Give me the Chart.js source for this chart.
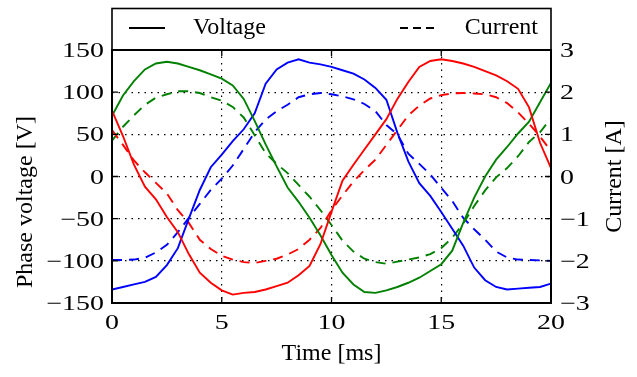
<!DOCTYPE html>
<html>
<head>
<meta charset="utf-8">
<script src="https://cdn.jsdelivr.net/npm/chart.js@4.4.1/dist/chart.umd.min.js"></script>
<style>
  html, body { margin: 0; padding: 0; background: #fff; }
  #wrap { width: 637px; height: 377px; }
</style>
</head>
<body>
<div id="wrap"><canvas id="phaseChart" width="637" height="377"></canvas></div>
<script>
// time axis [ms]
const timeMs = [0,0.5,1,1.5,2,2.5,3,3.5,4,4.5,5,5.5,6,6.5,7,7.5,8,8.5,9,9.5,10,
  10.5,11,11.5,12,12.5,13,13.5,14,14.5,15,15.5,16,16.5,17,17.5,18,18.5,19,19.5,20];

// phase voltages [V]
const voltageRed = [78,48,14,-12,-27,-48,-66,-92,-114,-126,-135,-140,-138,-137,-134,-130,-126,-117,-106,-80,-42,
  -5,14,32,50,68,92,112,130,137,139,137,134,130,125,120,113,104,82,40,10];
const voltageGreen = [72,96,113,127,134,136,134,130,126,121,116,108,92,66,38,12,-13,-30,-49,-70,-93,
  -114,-128,-137,-138,-135,-131,-126,-120,-112,-104,-88,-55,-25,0,20,35,51,65,88,111];
const voltageBlue = [-134,-131,-128,-125,-119,-105,-85,-50,-16,11,26,42,56,75,110,127,135,139,135,133,130,
  126,122,115,105,91,52,18,-8,-23,-42,-62,-82,-108,-123,-131,-134,-133,-132,-131,-127];

// phase currents [A]
const currentRed = [1.1,0.75,0.38,0.1,-0.15,-0.4,-0.8,-1.1,-1.5,-1.72,-1.88,-1.97,-2.03,-2.05,-2.0,-1.95,-1.85,-1.72,-1.5,-1.22,-0.8,
  -0.45,-0.12,0.15,0.4,0.75,1.1,1.45,1.68,1.85,1.93,1.97,1.98,1.97,1.95,1.88,1.74,1.52,1.25,0.95,0.6];
const currentGreen = [0.85,1.18,1.45,1.7,1.87,1.95,2.02,2.02,1.98,1.88,1.8,1.65,1.4,0.98,0.55,0.3,0.08,-0.2,-0.48,-0.8,-1.15,
  -1.52,-1.78,-1.95,-2.03,-2.07,-2.02,-1.97,-1.92,-1.84,-1.7,-1.45,-1.12,-0.7,-0.33,-0.02,0.2,0.48,0.82,1.05,1.38];
const currentBlue = [-1.98,-1.98,-1.97,-1.93,-1.8,-1.62,-1.32,-0.98,-0.65,-0.32,-0.05,0.26,0.65,1.05,1.35,1.55,1.7,1.88,1.95,1.98,1.95,
  1.9,1.83,1.72,1.55,1.22,1.0,0.54,0.3,0.05,-0.27,-0.58,-0.98,-1.25,-1.5,-1.78,-1.92,-1.97,-1.98,-1.99,-2.0];

const legendLabels = ['Voltage', 'Current'];
const axisTitles = { x: 'Time [ms]', left: 'Phase voltage [V]', right: 'Current [A]' };

const FONT = 'Liberation Serif';
Chart.defaults.font.family = FONT;
Chart.defaults.font.size = 24;
Chart.defaults.color = '#000';

const pts = arr => arr.map((v, i) => ({ x: timeMs[i], y: v }));
const minus = v => v < 0 ? '\u2212' + Math.abs(v) : String(v);

function line(data, color, dashed, axis) {
  return {
    data: pts(data),
    borderColor: color,
    borderWidth: 1.9,
    borderDash: dashed ? [10, 7] : [],
    pointRadius: 0,
    tension: 0,
    fill: false,
    yAxisID: axis
  };
}

// tick numbers are wide in the original, so draw them stretched
function wideText(ctx, txt, x, y, align) {
  ctx.save();
  ctx.translate(x, y);
  ctx.scale(1.33, 1);
  ctx.textAlign = align;
  ctx.fillText(txt, 0, 0);
  ctx.restore();
}

// frame, inward ticks, tick labels, legend box and axis titles
const decor = {
  id: 'decor',
  afterDraw(chart) {
    const { ctx, chartArea: a, scales } = chart;
    ctx.save();
    ctx.strokeStyle = '#000';
    ctx.fillStyle = '#000';
    ctx.setLineDash([]);

    // inward ticks
    ctx.lineWidth = 1.3;
    const tl = 6;
    ctx.beginPath();
    scales.y.ticks.forEach(t => {
      const py = scales.y.getPixelForValue(t.value);
      ctx.moveTo(a.left, py); ctx.lineTo(a.left + tl, py);
    });
    scales.y2.ticks.forEach(t => {
      const py = scales.y2.getPixelForValue(t.value);
      ctx.moveTo(a.right, py); ctx.lineTo(a.right - tl, py);
    });
    scales.x.ticks.forEach(t => {
      const px = scales.x.getPixelForValue(t.value);
      ctx.moveTo(px, a.bottom); ctx.lineTo(px, a.bottom - tl);
      ctx.moveTo(px, a.top); ctx.lineTo(px, a.top + tl);
    });
    ctx.stroke();

    // plot frame
    ctx.lineWidth = 2;
    ctx.strokeRect(a.left, a.top, a.right - a.left, a.bottom - a.top);

    // tick labels
    ctx.font = '21px ' + FONT;
    ctx.textBaseline = 'alphabetic';
    const dy = 7;
    scales.y.ticks.forEach(t => {
      wideText(ctx, minus(t.value), 104, scales.y.getPixelForValue(t.value) + dy, 'right');
    });
    scales.y2.ticks.forEach(t => {
      wideText(ctx, minus(t.value), 560, scales.y2.getPixelForValue(t.value) + dy, 'left');
    });
    scales.x.ticks.forEach(t => {
      wideText(ctx, minus(t.value), scales.x.getPixelForValue(t.value), 322 + dy, 'center');
    });

    // legend box
    ctx.lineWidth = 1.6;
    ctx.strokeRect(a.left, 8.5, a.right - a.left, a.top - 8.5);
    const ly = 28;
    ctx.lineWidth = 1.9;
    ctx.beginPath();
    ctx.moveTo(129, ly); ctx.lineTo(165, ly);
    ctx.stroke();
    ctx.setLineDash([8, 5]);
    ctx.beginPath();
    ctx.moveTo(400, ly); ctx.lineTo(436, ly);
    ctx.stroke();
    ctx.setLineDash([]);
    ctx.font = '24px ' + FONT;
    ctx.textBaseline = 'middle';
    ctx.textAlign = 'left';
    ctx.fillText(legendLabels[0], 193, ly);
    ctx.textAlign = 'right';
    ctx.fillText(legendLabels[1], 538, ly);

    // axis titles
    ctx.textAlign = 'center';
    ctx.fillText(axisTitles.x, (a.left + a.right) / 2, 354);
    ctx.save();
    ctx.translate(26, 202);
    ctx.rotate(-Math.PI / 2);
    ctx.fillText(axisTitles.left, 0, 0);
    ctx.restore();
    ctx.save();
    ctx.translate(615, (a.top + a.bottom) / 2);
    ctx.rotate(-Math.PI / 2);
    ctx.fillText(axisTitles.right, 0, 0);
    ctx.restore();

    ctx.restore();
  }
};

const ctx = document.getElementById('phaseChart').getContext('2d');
const phaseChart = new Chart(ctx, {
  type: 'line',
  data: {
    datasets: [
      line(voltageRed, '#ff0000', false, 'y'),
      line(voltageGreen, '#008000', false, 'y'),
      line(voltageBlue, '#0000ff', false, 'y'),
      line(currentRed, '#ff0000', true, 'y2'),
      line(currentGreen, '#008000', true, 'y2'),
      line(currentBlue, '#0000ff', true, 'y2')
    ]
  },
  options: {
    responsive: false,
    animation: false,
    layout: { padding: { top: 50, left: 0, right: 0, bottom: 0 } },
    plugins: { legend: { display: false }, tooltip: { enabled: false } },
    scales: {
      x: {
        type: 'linear',
        min: 0, max: 20,
        afterFit: s => { s.height = 74; },
        ticks: { stepSize: 5, display: false },
        grid: {
          drawTicks: false,
          color: c => (c.tick && c.tick.value > 0 && c.tick.value < 20) ? '#000' : 'rgba(0,0,0,0)',
          lineWidth: 1.2
        },
        border: { display: false, dash: [1.5, 5] }
      },
      y: {
        position: 'left',
        min: -150, max: 150,
        afterFit: s => { s.width = 112; },
        ticks: { stepSize: 50, display: false },
        grid: {
          drawTicks: false,
          color: c => (c.tick && Math.abs(c.tick.value) < 150) ? '#000' : 'rgba(0,0,0,0)',
          lineWidth: 1.2
        },
        border: { display: false, dash: [1.5, 5] }
      },
      y2: {
        position: 'right',
        min: -3, max: 3,
        afterFit: s => { s.width = 86; },
        ticks: { stepSize: 1, display: false },
        grid: { drawOnChartArea: false, drawTicks: false },
        border: { display: false }
      }
    }
  },
  plugins: [decor]
});
</script>
</body>
</html>
